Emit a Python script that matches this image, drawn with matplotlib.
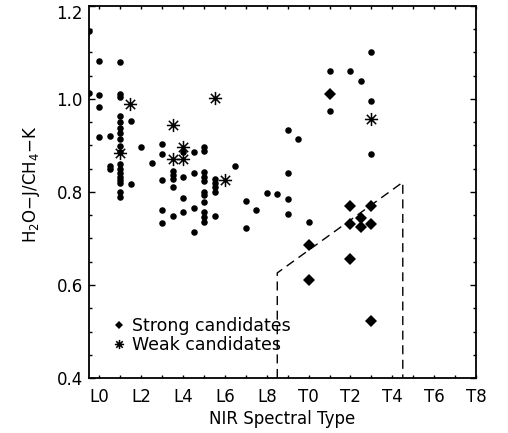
import numpy as np
import matplotlib
matplotlib.use("Agg")
import matplotlib.pyplot as plt
from matplotlib.path import Path
from matplotlib.lines import Line2D
from matplotlib.ticker import MultipleLocator, FixedLocator, FuncFormatter
import matplotlib.transforms as mtransforms

plt.rcParams['font.family'] = ['DejaVu Sans']

# Spectral type index: L0 = 0 ... L9 = 9, T0 = 10 ... T8 = 18
field_type = [
    -0.5, -0.5,
    0, 0, 0, 0,
    0.5, 0.5, 0.5,
    1, 1, 1, 1, 1, 1, 1, 1, 1, 1, 1, 1, 1, 1, 1, 1, 1, 1,
    1.5, 1.5,
    2,
    2.5,
    3, 3, 3, 3, 3,
    3.5, 3.5, 3.5, 3.5, 3.5,
    4, 4, 4, 4,
    4.5, 4.5, 4.5, 4.5,
    5, 5, 5, 5, 5, 5, 5, 5, 5, 5, 5,
    5.5, 5.5, 5.5, 5.5, 5.5,
    6.5,
    7, 7,
    7.5,
    8,
    8.5,
    9, 9, 9, 9,
    9.5,
    10,
    11, 11,
    12,
    12.5,
    13, 13, 13,
]
field_index = [
    1.147, 1.012,
    1.082, 1.009, 0.983, 0.918,
    0.920, 0.856, 0.850,
    1.079, 1.011, 1.005, 0.964, 0.951, 0.938, 0.926, 0.913, 0.900, 0.887,
    0.860, 0.849, 0.840, 0.833, 0.826, 0.819, 0.801, 0.790,
    0.952, 0.817,
    0.897,
    0.862,
    0.903, 0.881, 0.826, 0.761, 0.734,
    0.846, 0.836, 0.827, 0.811, 0.749,
    0.885, 0.833, 0.788, 0.756,
    0.887, 0.840, 0.765, 0.715,
    0.897, 0.889, 0.842, 0.833, 0.824, 0.801, 0.794, 0.779, 0.758, 0.747, 0.736,
    0.829, 0.819, 0.810, 0.801, 0.749,
    0.855,
    0.781, 0.722,
    0.761,
    0.797,
    0.795,
    0.933, 0.840, 0.786, 0.752,
    0.913,
    0.735,
    1.060, 0.974,
    1.060,
    1.039,
    1.100, 0.996, 0.882,
]

strong_type = [10, 10, 11, 12, 12, 12, 12.5, 12.5, 13, 13, 13]
strong_index = [0.686, 0.611, 1.011, 0.770, 0.731, 0.656, 0.745, 0.725, 0.770, 0.731, 0.523]

weak_type = [1, 1.45, 3.5, 3.5, 4, 4, 5.5, 6, 13]
weak_index = [0.884, 0.990, 0.944, 0.870, 0.897, 0.872, 1.002, 0.826, 0.957]

# Selection region boundary
region_type = [8.5, 8.5, 14.5, 14.5]
region_index = [0.4, 0.626, 0.821, 0.4]

tick_positions = [0, 2, 4, 6, 8, 10, 12, 14, 16, 18]
tick_names = ['L0', 'L2', 'L4', 'L6', 'L8', 'T0', 'T2', 'T4', 'T6', 'T8']

# Asterisk marker: horizontal, vertical and two diagonal strokes
d = 0.5 / np.sqrt(2)
star_verts = [(-0.5, 0), (0.5, 0), (0, -0.5), (0, 0.5),
              (-d, -d), (d, d), (-d, d), (d, -d)]
star_codes = [Path.MOVETO, Path.LINETO] * 4
asterisk = Path(star_verts, star_codes)

fig = plt.figure(figsize=(5.08, 4.33), dpi=100)
ax = fig.add_axes([89 / 508, 55 / 433, 387 / 508, 372 / 433])

ax.plot(field_type, field_index, 'o', color='black', ms=4.7, mew=0, ls='none')
ax.plot(strong_type, strong_index, 'D', color='black', ms=6, mew=0, ls='none')
ax.plot(weak_type, weak_index, marker=asterisk, color='black', ms=9.5, mew=1.1,
        ls='none')
ax.plot(region_type, region_index, color='black', lw=1.0,
        ls=(0, (6.5, 4)))

ax.set_xlim(-0.5, 18)
ax.set_ylim(0.4, 1.2)

ax.xaxis.set_major_locator(FixedLocator(tick_positions))
ax.set_xticklabels(tick_names)
ax.xaxis.set_minor_locator(MultipleLocator(1))
ax.yaxis.set_major_locator(MultipleLocator(0.2))
ax.yaxis.set_minor_locator(MultipleLocator(0.05))
ax.yaxis.set_major_formatter(
    FuncFormatter(lambda v, p: '' if v > 1.19 else f'{v:.1f}'))

ax.tick_params(axis='both', which='both', direction='in', top=True,
               right=True, width=1.0, labelsize=12)
ax.tick_params(axis='x', which='both', length=2.5, pad=7)
ax.tick_params(axis='y', which='major', length=4.0, pad=4.5)
ax.tick_params(axis='y', which='minor', length=2.2)
for s in ax.spines.values():
    s.set_linewidth(1.3)

# top y label sits a little lower than its tick
lbl_tr = mtransforms.offset_copy(ax.get_yaxis_transform(), fig=fig,
                                 x=-6, y=-8, units='dots')
ax.text(0, 1.2, '1.2', transform=lbl_tr, ha='right', va='center', fontsize=12)

ax.set_xlabel('NIR Spectral Type', fontsize=12)
ax.set_ylabel(r'H$_2$O$-$J/CH$_4$$-$K', fontsize=12)
ax.xaxis.set_label_coords(0.5, -0.085)
ax.yaxis.set_label_coords(-0.122, 0.52)

handles = [
    Line2D([], [], marker='D', color='black', ms=6, mew=0, ls='none'),
    Line2D([], [], marker=asterisk, color='black', ms=9.5, mew=1.1, ls='none'),
]
ax.legend(handles, ['Strong candidates', 'Weak candidates'],
          loc='lower left', bbox_to_anchor=(0.055, 0.065), frameon=False,
          fontsize=12.5, markerscale=0.7, handlelength=1.0,
          handletextpad=0.25, labelspacing=0.05, borderpad=0,
          borderaxespad=0)

fig.savefig('out.png', dpi=100)
